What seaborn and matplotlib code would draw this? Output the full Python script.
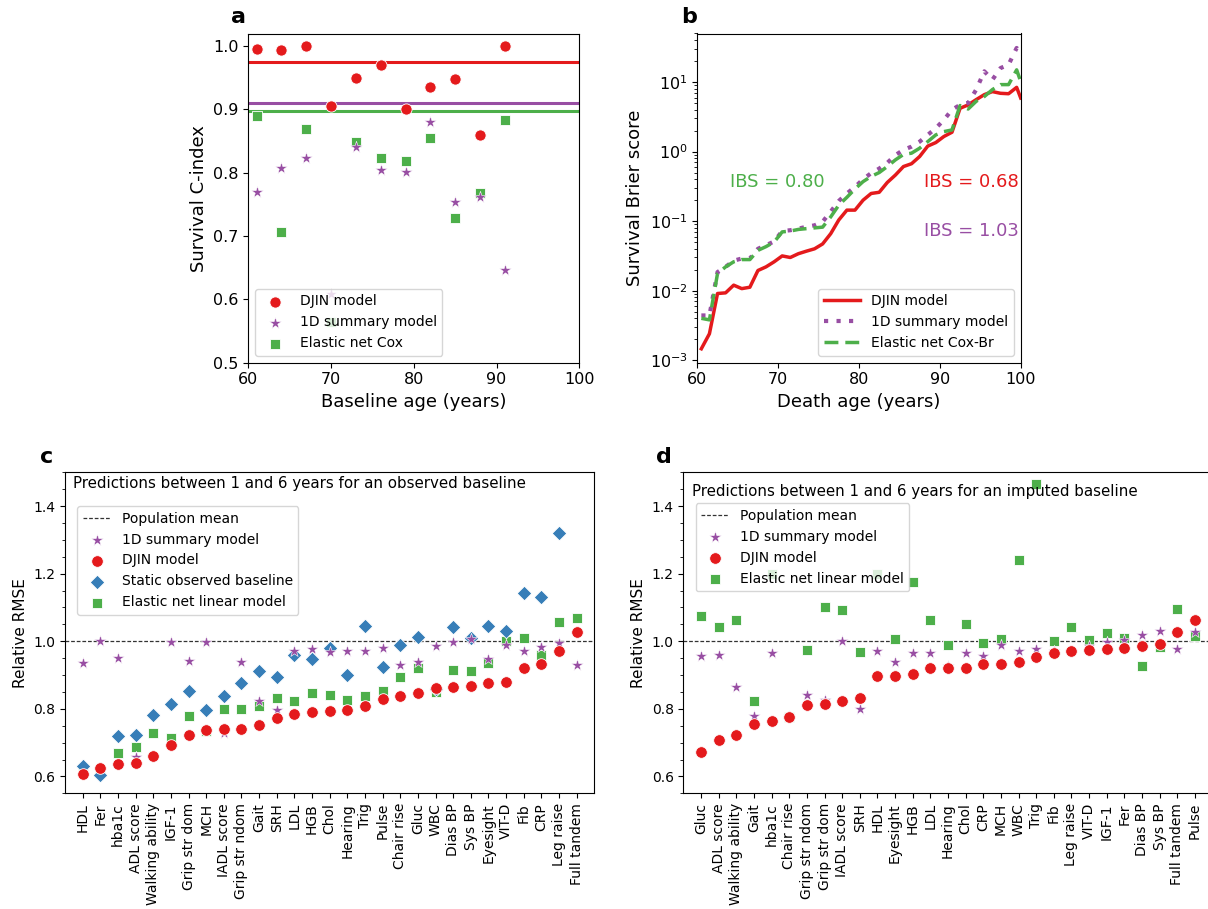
import numpy as np
import pandas as pd
import matplotlib
matplotlib.use("Agg")
import matplotlib.pyplot as plt
import seaborn as sns
from matplotlib.ticker import MultipleLocator, LogLocator

# ---------------- data ----------------
# panel a
baseline_age = [61, 64, 67, 70, 73, 76, 79, 82, 85, 88, 91]
cindex_djin = [0.996, 0.994, 1.000, 0.905, 0.949, 0.970, 0.900, 0.935, 0.948, 0.860, 1.000]
cindex_1d = [0.769, 0.807, 0.824, 0.608, 0.840, 0.805, 0.801, 0.880, 0.754, 0.761, 0.647]
cindex_enet = [0.889, 0.707, 0.869, 0.565, 0.849, 0.823, 0.819, 0.855, 0.729, 0.768, 0.883]
mean_djin = 0.975
mean_1d = 0.911
mean_enet = 0.897

# panel b
death_age = [60.5, 61.5, 62.5, 63.5, 64.5, 65.5, 66.5, 67.5, 68.5, 69.5,
             70.5, 71.5, 72.5, 73.5, 74.5, 75.5, 76.5, 77.5, 78.5, 79.5,
             80.5, 81.5, 82.5, 83.5, 84.5, 85.5, 86.5, 87.5, 88.5, 89.5,
             90.5, 91.5, 92.5, 93.5, 94.5, 95.5, 96.5, 97.5, 98.5, 99.5, 100.0]
brier_djin = [0.00146, 0.0024, 0.0091, 0.0093, 0.012, 0.0107, 0.0112, 0.0195, 0.022, 0.026,
              0.0316, 0.030, 0.034, 0.037, 0.040, 0.047, 0.066, 0.104, 0.144, 0.144,
              0.20, 0.25, 0.26, 0.36, 0.46, 0.61, 0.67, 0.85, 1.2, 1.35,
              1.65, 1.9, 4.2, 4.7, 5.6, 6.6, 7.3, 6.9, 6.8, 8.4, 5.9]
brier_1d = [0.0044, 0.0044, 0.0185, 0.022, 0.027, 0.029, 0.029, 0.040, 0.045, 0.051,
            0.072, 0.074, 0.078, 0.083, 0.087, 0.098, 0.137, 0.195, 0.25, 0.31,
            0.40, 0.49, 0.57, 0.69, 0.89, 1.06, 1.18, 1.39, 1.74, 2.17,
            2.86, 4.0, 4.7, 5.0, 7.8, 14.3, 10.8, 15.9, 17.8, 31.0, 26.2]
brier_enet = [0.0040, 0.0038, 0.0176, 0.022, 0.026, 0.028, 0.028, 0.038, 0.043, 0.050,
              0.070, 0.072, 0.076, 0.078, 0.080, 0.082, 0.115, 0.17, 0.22, 0.29,
              0.37, 0.44, 0.50, 0.61, 0.76, 0.91, 0.95, 1.12, 1.39, 1.74,
              1.94, 2.05, 4.6, 4.1, 5.3, 6.2, 7.8, 9.2, 9.2, 15.0, 10.2]
ibs_labels = ["IBS = 0.80", "IBS = 0.68", "IBS = 1.03"]

# panel c
vars_c = ["HDL", "Fer", "hba1c", "ADL score", "Walking ability", "IGF-1", "Grip str dom",
          "MCH", "IADL score", "Grip str ndom", "Gait", "SRH", "LDL", "HGB", "Chol",
          "Hearing", "Trig", "Pulse", "Chair rise", "Gluc", "WBC", "Dias BP", "Sys BP",
          "Eyesight", "VIT-D", "Fib", "CRP", "Leg raise", "Full tandem"]
c_1d = [0.936, 1.002, 0.951, 0.657, 0.660, 0.997, 0.943, 0.997, 0.728, 0.938, 0.822, 0.798,
        0.972, 0.978, 0.967, 0.970, 0.972, 0.979, 0.929, 0.940, 0.987, 0.999, 1.007, 0.946,
        0.989, 0.972, 0.982, 0.995, 0.931]
c_djin = [0.607, 0.625, 0.637, 0.640, 0.661, 0.694, 0.723, 0.738, 0.740, 0.740, 0.753, 0.773,
          0.786, 0.791, 0.795, 0.796, 0.807, 0.830, 0.839, 0.847, 0.862, 0.864, 0.868, 0.876,
          0.880, 0.920, 0.933, 0.970, 1.026]
c_static = [0.630, 0.603, 0.719, 0.723, 0.783, 0.814, 0.852, 0.796, 0.839, 0.877, 0.913, 0.894,
            0.959, 0.948, 0.980, 0.899, 1.046, 0.924, 0.989, 1.013, 0.859, 1.042, 1.010, 1.044,
            1.030, 1.144, 1.131, 1.319, np.nan]
c_enet = [0.615, 0.615, 0.669, 0.687, 0.728, 0.714, 0.778, 0.733, 0.800, 0.800, 0.809, 0.831,
          0.824, 0.847, 0.840, 0.827, 0.837, 0.854, 0.893, 0.921, 0.850, 0.916, 0.911, 0.936,
          1.000, 1.010, 0.959, 1.056, 1.069]

# panel d
vars_d = ["Gluc", "ADL score", "Walking ability", "Gait", "hba1c", "Chair rise", "Grip str ndom",
          "Grip str dom", "IADL score", "SRH", "HDL", "Eyesight", "HGB", "LDL", "Hearing",
          "Chol", "CRP", "MCH", "WBC", "Trig", "Fib", "Leg raise", "VIT-D", "IGF-1", "Fer",
          "Dias BP", "Sys BP", "Full tandem", "Pulse"]
d_1d = [0.956, 0.960, 0.866, 0.780, 0.966, 0.778, 0.842, 0.827, 1.002, 0.799, 0.970, 0.938,
        0.964, 0.964, 0.928, 0.965, 0.956, 0.990, 0.972, 0.978, 0.972, 0.970, 0.985, 0.998,
        1.003, 1.018, 1.030, 0.977, 1.027]
d_djin = [0.671, 0.707, 0.724, 0.756, 0.764, 0.776, 0.812, 0.813, 0.823, 0.832, 0.896, 0.898,
          0.902, 0.920, 0.920, 0.922, 0.933, 0.933, 0.939, 0.954, 0.964, 0.971, 0.973, 0.976,
          0.979, 0.985, 0.993, 1.028, 1.064]
d_enet = [1.074, 1.042, 1.064, 0.824, 1.200, 0.776, 0.974, 1.102, 1.093, 0.969, 1.200, 1.008,
          1.175, 1.064, 0.988, 1.051, 0.995, 1.007, 1.240, 1.465, 1.000, 1.043, 1.005, 1.024,
          1.010, 0.926, 0.982, 1.096, 1.015]

RED = "#e41a1c"
PURPLE = "#984ea3"
GREEN = "#4daf4a"
BLUE = "#377eb8"

plt.rcParams["font.family"] = ["DejaVu Sans"]

fig = plt.figure(figsize=(12.08, 9.09), dpi=100)
W, H = 1208.0, 909.0

def add_ax(l, t, r, b):
    return fig.add_axes([l / W, 1 - b / H, (r - l) / W, (b - t) / H])

ax_a = add_ax(248.3, 33.5, 579.3, 362.7)
ax_b = add_ax(697.3, 33.5, 1020.7, 362.7)
ax_c = add_ax(65.0, 472.3, 594.3, 793.3)
ax_d = add_ax(683.4, 472.3, 1212.6, 793.3)

# ---------------- panel a ----------------
ax = ax_a
sns.scatterplot(x=baseline_age, y=cindex_enet, marker="s", color=GREEN, s=55, ax=ax,
                label="Elastic net Cox", zorder=3, linewidth=0.6)
sns.scatterplot(x=baseline_age, y=cindex_1d, marker="*", color=PURPLE, s=80, ax=ax,
                label="1D summary model", zorder=4, linewidth=0.4)
sns.scatterplot(x=baseline_age, y=cindex_djin, marker="o", color=RED, s=65, ax=ax,
                label="DJIN model", zorder=5, linewidth=0.6)
ax.axhline(mean_djin, color=RED, lw=2.2, zorder=2)
ax.axhline(mean_1d, color=PURPLE, lw=2.2, zorder=2)
ax.axhline(mean_enet, color=GREEN, lw=2.2, zorder=2)
ax.set_xlim(60, 100)
ax.set_ylim(0.5, 1.02)
ax.xaxis.set_major_locator(MultipleLocator(10))
ax.yaxis.set_major_locator(MultipleLocator(0.1))
ax.tick_params(labelsize=11.5)
ax.set_xlabel("Baseline age (years)", fontsize=13)
ax.set_ylabel("Survival C-index", fontsize=13)
h, l = ax.get_legend_handles_labels()
order = [2, 1, 0]
ax.legend([h[i] for i in order], [l[i] for i in order], loc="lower left", fontsize=10)

# ---------------- panel b ----------------
ax = ax_b
sns.lineplot(x=death_age, y=brier_djin, color=RED, lw=2.5, ax=ax, label="DJIN model")
sns.lineplot(x=death_age, y=brier_1d, color=PURPLE, lw=3, ax=ax, label="1D summary model",
             linestyle=":")
sns.lineplot(x=death_age, y=brier_enet, color=GREEN, lw=2.5, ax=ax, label="Elastic net Cox-Br",
             linestyle="--")
ax.lines[1].set_dashes([1, 2])
ax.lines[2].set_dashes([4, 2])
ax.set_yscale("log")
ax.set_xlim(60, 100)
ax.set_ylim(0.00092, 50)
ax.xaxis.set_major_locator(MultipleLocator(10))
ax.yaxis.set_major_locator(LogLocator(base=10, numticks=10))
ax.tick_params(labelsize=11.5)
ax.set_xlabel("Death age (years)", fontsize=13)
ax.set_ylabel("Survival Brier score", fontsize=13)
ax.legend(loc="lower right", fontsize=10, handlelength=2.6)
ax.text(64, 0.37, ibs_labels[0], color=GREEN, fontsize=13, va="center", ha="left")
ax.text(99.8, 0.37, ibs_labels[1], color=RED, fontsize=13, va="center", ha="right")
ax.text(99.8, 0.072, ibs_labels[2], color=PURPLE, fontsize=13, va="center", ha="right")

# ---------------- panel c ----------------
ax = ax_c
dc = pd.DataFrame({"var": vars_c, "one_d": c_1d, "djin": c_djin, "static": c_static, "enet": c_enet})
ax.axhline(1.0, color="k", ls="--", lw=0.9, dashes=(3, 1.5), label="Population mean",
           zorder=1, alpha=0.8)
sns.scatterplot(data=dc, x="var", y="enet", marker="s", color=GREEN, s=55, ax=ax,
                label="Elastic net linear model", zorder=2, linewidth=0.6)
sns.scatterplot(data=dc, x="var", y="static", marker="D", color=BLUE, s=55, ax=ax,
                label="Static observed baseline", zorder=3, linewidth=0.6)
sns.scatterplot(data=dc, x="var", y="one_d", marker="*", color=PURPLE, s=80, ax=ax,
                label="1D summary model", zorder=4, linewidth=0.4)
sns.scatterplot(data=dc, x="var", y="djin", marker="o", color=RED, s=70, ax=ax,
                label="DJIN model", zorder=5, linewidth=0.6)
ax.set_xlim(-1, 29)
ax.set_ylim(0.55, 1.5)
ax.yaxis.set_major_locator(MultipleLocator(0.2))
ax.yaxis.set_minor_locator(MultipleLocator(0.05))
ax.tick_params(axis="x", labelrotation=90, labelsize=10)
ax.tick_params(axis="y", labelsize=10)
ax.set_xlabel("")
ax.set_ylabel("Relative RMSE", fontsize=11)
h, l = ax.get_legend_handles_labels()
lab2h = dict(zip(l, h))
order = ["Population mean", "1D summary model", "DJIN model", "Static observed baseline",
         "Elastic net linear model"]
ax.legend([lab2h[k] for k in order], order, loc="upper left", bbox_to_anchor=(0.023, 0.895),
          borderaxespad=0, fontsize=10)
ax.text(-0.55, 1.467, "Predictions between 1 and 6 years for an observed baseline",
        fontsize=10.8, va="center", ha="left")

# ---------------- panel d ----------------
ax = ax_d
dd = pd.DataFrame({"var": vars_d, "one_d": d_1d, "djin": d_djin, "enet": d_enet})
ax.axhline(1.0, color="k", ls="--", lw=0.9, dashes=(3, 1.5), label="Population mean",
           zorder=1, alpha=0.8)
sns.scatterplot(data=dd, x="var", y="enet", marker="s", color=GREEN, s=55, ax=ax,
                label="Elastic net linear model", zorder=2, linewidth=0.6)
sns.scatterplot(data=dd, x="var", y="one_d", marker="*", color=PURPLE, s=80, ax=ax,
                label="1D summary model", zorder=4, linewidth=0.4)
sns.scatterplot(data=dd, x="var", y="djin", marker="o", color=RED, s=70, ax=ax,
                label="DJIN model", zorder=5, linewidth=0.6)
ax.set_xlim(-1, 29)
ax.set_ylim(0.55, 1.5)
ax.yaxis.set_major_locator(MultipleLocator(0.2))
ax.yaxis.set_minor_locator(MultipleLocator(0.05))
ax.tick_params(axis="x", labelrotation=90, labelsize=10)
ax.tick_params(axis="y", labelsize=10)
ax.set_xlabel("")
ax.set_ylabel("Relative RMSE", fontsize=11)
h, l = ax.get_legend_handles_labels()
lab2h = dict(zip(l, h))
order = ["Population mean", "1D summary model", "DJIN model", "Elastic net linear model"]
ax.legend([lab2h[k] for k in order], order, loc="upper left", bbox_to_anchor=(0.023, 0.903),
          borderaxespad=0, fontsize=10)
ax.text(-0.5, 1.444, "Predictions between 1 and 6 years for an imputed baseline",
        fontsize=10.8, va="center", ha="left")

# panel letters
for txt, x, y in [("a", 239, 17), ("b", 689, 17), ("c", 46.7, 456.7), ("d", 664, 456.7)]:
    fig.text(x / W, 1 - y / H, txt, fontsize=16, fontweight="bold", ha="center", va="center")

fig.savefig("out.png", dpi=100)
